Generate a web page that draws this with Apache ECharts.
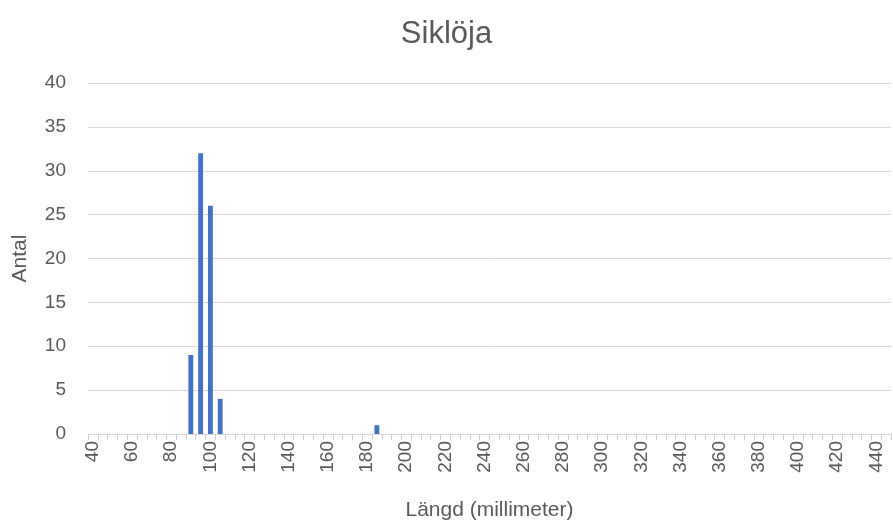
<!DOCTYPE html>
<html>
<head>
<meta charset="utf-8">
<script src="https://cdn.jsdelivr.net/npm/echarts@6/dist/echarts.min.js"></script>
<style>
  html, body { margin: 0; padding: 0; background: #fff; }
  #chart { width: 893px; height: 523px; }
</style>
</head>
<body>
<div id="chart"></div>
<script>
// längdklasser (mm), 5 mm steg
const lengths = [40, 45, 50, 55, 60, 65, 70, 75, 80, 85, 90, 95, 100, 105, 110, 115, 120, 125,
  130, 135, 140, 145, 150, 155, 160, 165, 170, 175, 180, 185, 190, 195, 200, 205, 210, 215,
  220, 225, 230, 235, 240, 245, 250, 255, 260, 265, 270, 275, 280, 285, 290, 295, 300, 305,
  310, 315, 320, 325, 330, 335, 340, 345, 350, 355, 360, 365, 370, 375, 380, 385, 390, 395,
  400, 405, 410, 415, 420, 425, 430, 435, 440, 445];
// fångade längder och antal
const caughtLengths = [90, 95, 100, 105, 185];
const caughtCounts = [9, 32, 26, 4, 1];
const yTicks = [0, 5, 10, 15, 20, 25, 30, 35, 40];

const textColor = '#595959';
const lineColor = '#d9d9d9';
const font = '"Liberation Sans", Arial, sans-serif';

const counts = lengths.map(function (l) {
  const i = caughtLengths.indexOf(l);
  return i >= 0 ? caughtCounts[i] : 0;
});

const chart = echarts.init(document.getElementById('chart'));
chart.setOption({
  animation: false,
  title: {
    text: 'Siklöja',
    left: 'center',
    top: 14,
    textStyle: { color: textColor, fontFamily: font, fontSize: 31, fontWeight: 'normal' }
  },
  grid: { left: 88, right: 2, top: 83, bottom: 89, outerBoundsMode: 'none' },
  xAxis: {
    type: 'category',
    data: lengths,
    name: 'Längd (millimeter)',
    nameLocation: 'middle',
    nameGap: 66,
    nameTextStyle: { color: textColor, fontFamily: font, fontSize: 21 },
    axisLine: { lineStyle: { color: lineColor, width: 1 } },
    axisTick: { show: true, interval: 0, length: 6, lineStyle: { color: '#cfcfcf' } },
    axisLabel: {
      interval: 3,
      rotate: 90,
      margin: 7,
      color: textColor,
      fontFamily: font,
      fontSize: 19
    }
  },
  yAxis: {
    type: 'value',
    min: yTicks[0],
    max: yTicks[yTicks.length - 1],
    interval: 5,
    name: 'Antal',
    nameLocation: 'middle',
    nameGap: 57,
    nameTextStyle: { color: textColor, fontFamily: font, fontSize: 21 },
    axisLine: { show: false },
    axisTick: { show: false },
    splitLine: { lineStyle: { color: lineColor, width: 1 } },
    axisLabel: { margin: 22, color: textColor, fontFamily: font, fontSize: 19 }
  },
  series: [{
    type: 'bar',
    data: counts,
    barWidth: '50%',
    itemStyle: { color: '#4472c4' }
  }]
});
</script>
</body>
</html>
